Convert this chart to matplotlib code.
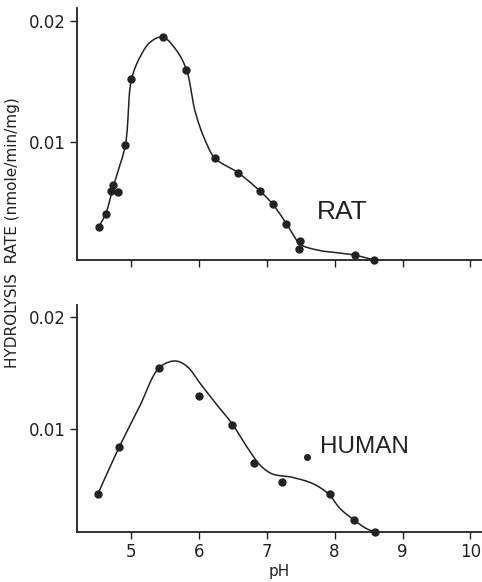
import numpy as np
import matplotlib
matplotlib.use("Agg")
import matplotlib.pyplot as plt

# ---- data ----
rat_ph = [4.525, 4.63, 4.71, 4.745, 4.81, 4.92, 5.01, 5.47, 5.82, 6.24, 6.58,
          6.90, 7.09, 7.29, 7.49, 7.48, 8.30, 8.58]
rat_rate = [0.0030, 0.0041, 0.0060, 0.0065, 0.0059, 0.0098, 0.0152, 0.0187,
            0.0160, 0.0087, 0.0075, 0.0060, 0.0049, 0.0033, 0.0019, 0.0012,
            0.0007, 0.0003]

human_ph = [4.515, 4.83, 5.42, 6.01, 6.49, 6.82, 7.22, 7.93, 8.29, 8.60]
human_rate = [0.0042, 0.0084, 0.0155, 0.0130, 0.0104, 0.0070, 0.0053, 0.0042,
              0.0019, 0.0008]

# hand-drawn smooth curves (knots)
rat_curve_ph = [4.525, 4.63, 4.745, 4.92, 5.01, 5.15, 5.29, 5.47, 5.66, 5.82,
                5.95, 6.10, 6.24, 6.58, 6.90, 7.09, 7.29, 7.40, 7.49, 7.79,
                7.99, 8.30, 8.58]
rat_curve_rate = [0.0030, 0.0041, 0.0064, 0.0098, 0.0152, 0.0172, 0.0183,
                  0.0187, 0.0177, 0.0160, 0.0125, 0.0101, 0.0087, 0.0075,
                  0.0060, 0.0049, 0.0033, 0.0023, 0.0016, 0.00107, 0.00093,
                  0.0007, 0.0003]

human_curve_ph = [4.515, 4.83, 5.12, 5.42, 5.654, 5.83, 6.02, 6.27, 6.49, 6.71,
                  6.90, 7.08, 7.37, 7.69, 7.91, 8.08, 8.28, 8.47, 8.60]
human_curve_rate = [0.0042, 0.0084, 0.0119, 0.0155, 0.0161, 0.0156, 0.0141,
                    0.01215, 0.0105, 0.0084, 0.0068, 0.0060, 0.0057, 0.0051,
                    0.0042, 0.0029, 0.0019, 0.0011, 0.0008]

x_ticks = [5, 6, 7, 8, 9, 10]
y_ticks = [0.01, 0.02]
y_ticklabels = ["0.01", "0.02"]

label_rat = "RAT"
label_human = "HUMAN"
human_dot_ph = [7.6]
human_dot_rate = [0.0075]


def catmull_rom(xs, ys, sx, sy, n=40, alpha=0.5):
    P = np.column_stack([np.asarray(xs, float) / sx, np.asarray(ys, float) / sy])
    P = np.vstack([2 * P[0] - P[1], P, 2 * P[-1] - P[-2]])
    out = []
    for i in range(1, len(P) - 2):
        p0, p1, p2, p3 = P[i - 1], P[i], P[i + 1], P[i + 2]
        t0 = 0.0
        t1 = t0 + np.linalg.norm(p1 - p0) ** alpha
        t2 = t1 + np.linalg.norm(p2 - p1) ** alpha
        t3 = t2 + np.linalg.norm(p3 - p2) ** alpha
        t = np.linspace(t1, t2, n)[:, None]
        A1 = (t1 - t) / (t1 - t0) * p0 + (t - t0) / (t1 - t0) * p1
        A2 = (t2 - t) / (t2 - t1) * p1 + (t - t1) / (t2 - t1) * p2
        A3 = (t3 - t) / (t3 - t2) * p2 + (t - t2) / (t3 - t2) * p3
        B1 = (t2 - t) / (t2 - t0) * A1 + (t - t0) / (t2 - t0) * A2
        B2 = (t3 - t) / (t3 - t1) * A2 + (t - t1) / (t3 - t1) * A3
        C = (t2 - t) / (t2 - t1) * B1 + (t - t1) / (t2 - t1) * B2
        out.append(C)
    C = np.vstack(out)
    return C[:, 0] * sx, C[:, 1] * sy


ink = "#222222"
plt.rcParams['font.family'] = ['DejaVu Sans']

fig = plt.figure(figsize=(4.82, 5.82), dpi=100)
ax1 = fig.add_axes([0.16, 0.5533, 0.84, 0.4330])
ax2 = fig.add_axes([0.16, 0.0859, 0.84, 0.3900])

for ax in (ax1, ax2):
    ax.spines['top'].set_visible(False)
    ax.spines['right'].set_visible(False)
    for s in ('left', 'bottom'):
        ax.spines[s].set_linewidth(1.3)
        ax.spines[s].set_color(ink)
    ax.set_xlim(4.21, 10.17)
    ax.set_xticks(x_ticks)
    ax.set_yticks(y_ticks)
    ax.set_yticklabels(y_ticklabels)
    ax.tick_params(direction='out', length=5, width=1.0, color=ink,
                   labelsize=12, labelcolor=ink, pad=3)

ax1.set_ylim(0.0003, 0.0211)
ax2.set_ylim(0.0008, 0.0211)
ax1.tick_params(axis='x', labelbottom=False)

cx, cy = catmull_rom(rat_curve_ph, rat_curve_rate, 1.0, 0.0057)
ax1.plot(cx, cy, color=ink, lw=1.1)
ax1.plot(rat_ph, rat_rate, 'o', color=ink, ms=5, clip_on=False)
ax1.text(7.74, 0.00425, label_rat, fontsize=19, color=ink,
         family='Liberation Sans', va='center', ha='left')

cx, cy = catmull_rom(human_curve_ph, human_curve_rate, 1.0, 0.0061)
ax2.plot(cx, cy, color=ink, lw=1.1)
ax2.plot(human_ph, human_rate, 'o', color=ink, ms=5, clip_on=False)
ax2.plot(human_dot_ph, human_dot_rate, 'o', color=ink, ms=4)
ax2.text(7.79, 0.0084, label_human, fontsize=17.5, color=ink,
         family='Liberation Sans', va='center', ha='left')
ax2.set_xlabel("pH", fontsize=11, color=ink, labelpad=2)

fig.text(0.025, 0.60, "HYDROLYSIS  RATE (nmole/min/mg)", rotation=90,
         fontsize=11, color=ink, va='center', ha='center')

fig.savefig("out.png", dpi=100)
